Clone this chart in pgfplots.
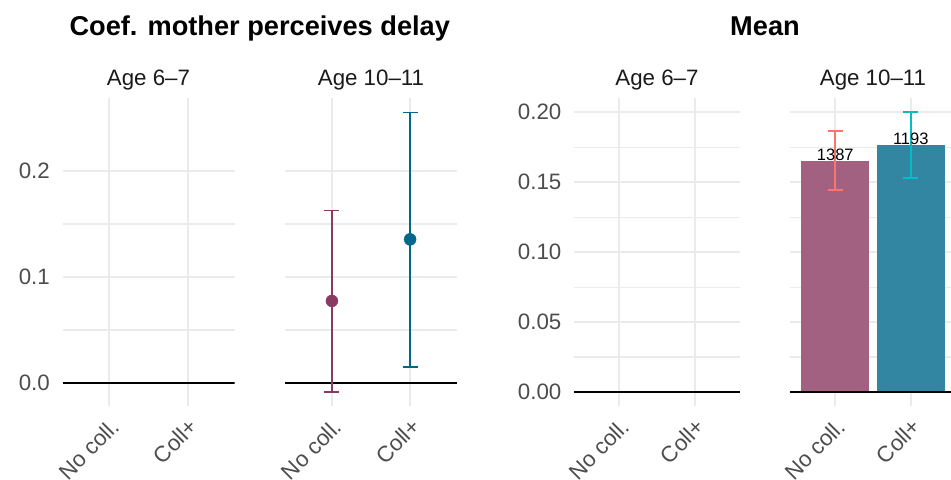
\documentclass[border=0pt]{standalone}
\usepackage{pgfplots}
\pgfplotsset{compat=1.18}
\usepackage{fontspec}
\setmainfont{Liberation Sans}
\definecolor{plum}{HTML}{8B3A62}
\definecolor{deepsky}{HTML}{00688B}
\definecolor{salmonR}{HTML}{F8766D}
\definecolor{cyanR}{HTML}{00BFC4}
\definecolor{gridc}{HTML}{EBEBEB}
\definecolor{tickc}{HTML}{4D4D4D}
\definecolor{stripc}{HTML}{1A1A1A}
\newcommand{\tickfont}{\fontsize{22.3bp}{26bp}\selectfont}
\newcommand{\titlefont}{\fontsize{27.2bp}{32bp}\selectfont\bfseries}
\newcommand{\numfont}{\fontsize{16.5bp}{20bp}\selectfont}

\pgfplotstableread{
x y ep em
1 0.0774 0.0856 0.0859
}\coefNo
\pgfplotstableread{
x y ep em
2 0.1355 0.1198 0.1204
}\coefColl
% confidence limits of the means (lower, upper)
\pgfplotstableread{
x y
1 0.1445
1 0.1864
}\meanNoCI
\pgfplotstableread{
x y
2 0.1533
2 0.2000
}\meanCollCI

\pgfplotsset{
  facet/.style={
    scale only axis,
    anchor=south west,
    height=308bp,
    xmin=0.4, xmax=2.6,
    xtick={1,2},
    xticklabels={No coll., Coll+},
    axis line style={draw=none},
    major tick length=0pt,
    minor tick length=0pt,
    xmajorgrids, ymajorgrids, yminorgrids,
    minor y tick num=1,
    major grid style={gridc, line width=2.1bp},
    minor grid style={gridc, line width=1.1bp},
    tick label style={font=\tickfont, text=tickc},
    /pgf/number format/assume math mode=true,
    xticklabel style={anchor=north east, inner sep=0pt, yshift=-11bp, rotate=45},
    yticklabel style={anchor=east, inner sep=0pt, xshift=-12.5bp},
  },
  coefax/.style={facet, ymin=-0.0217, ymax=0.2689, ytick={0,0.1,0.2}},
  meanax/.style={facet, ymin=-0.01, ymax=0.2102, ytick={0,0.05,0.1,0.15,0.2}},
  cibar/.style={draw=#1, line width=1.9bp, mark=-, mark size=7.75bp,
    mark options={solid, draw=#1, line width=1.9bp}},
}

\begin{document}
\begin{tikzpicture}[x=1bp,y=1bp]
\useasboundingbox (0,0) rectangle (951,480);

% Titles
\node[anchor=base, inner sep=0pt, font=\titlefont] at (259.75,444) {Coef. mother perceives delay};
\node[anchor=base, inner sep=0pt, font=\titlefont] at (765,444) {Mean};
% Strip labels
\node[anchor=base, inner sep=0pt, font=\tickfont, text=stripc] at (148.5,394) {Age 6–7};
\node[anchor=base, inner sep=0pt, font=\tickfont, text=stripc] at (371,394) {Age 10–11};
\node[anchor=base, inner sep=0pt, font=\tickfont, text=stripc] at (657,394) {Age 6–7};
\node[anchor=base, inner sep=0pt, font=\tickfont, text=stripc] at (873,394) {Age 10–11};

% Panel 1: coef, age 6-7
\begin{axis}[coefax, at={(62.5bp,74bp)}, width=172bp, yticklabels={0.0,0.1,0.2}]
\addplot[black, line width=1.6bp, forget plot] coordinates {(0.4,0) (2.6,0)};
\end{axis}

% Panel 2: coef, age 10-11
\begin{axis}[coefax, at={(285bp,74bp)}, width=172bp, yticklabels={}]
\addplot[black, line width=1.6bp, forget plot] coordinates {(0.4,0) (2.6,0)};
\addplot[only marks, mark=*, mark size=6bp, color=plum,
  error bars/.cd, y dir=both, y explicit,
  error bar style={line width=1.4bp, plum},
  error mark options={rotate=90, mark size=7.5bp, line width=1.4bp, plum}]
  table[x=x, y=y, y error plus=ep, y error minus=em] {\coefNo};
\addplot[only marks, mark=*, mark size=6bp, color=deepsky,
  error bars/.cd, y dir=both, y explicit,
  error bar style={line width=1.4bp, deepsky},
  error mark options={rotate=90, mark size=7.5bp, line width=1.4bp, deepsky}]
  table[x=x, y=y, y error plus=ep, y error minus=em] {\coefColl};
\end{axis}

% Panel 3: mean, age 6-7
\begin{axis}[meanax, at={(574bp,74bp)}, width=166bp, yticklabels={0.00,0.05,0.10,0.15,0.20}]
\addplot[black, line width=1.6bp, forget plot] coordinates {(0.4,0) (2.6,0)};
\end{axis}

% Panel 4: mean, age 10-11 (cut at the right edge)
\begin{axis}[meanax, at={(790bp,74bp)}, width=161bp, xmax=2.5338, yticklabels={}]
\addplot[ybar, bar width=68bp, bar shift=0pt, fill=plum!80, draw=none,
  nodes near coords, point meta=explicit symbolic,
  nodes near coords style={anchor=base, inner sep=0pt, font=\numfont, text=black}]
  coordinates {(1,0.1652) [1387]};
\addplot[ybar, bar width=68bp, bar shift=0pt, fill=deepsky!80, draw=none,
  nodes near coords, point meta=explicit symbolic,
  nodes near coords style={anchor=base, inner sep=0pt, font=\numfont, text=black}]
  coordinates {(2,0.1767) [1193]};
\addplot[black, line width=1.6bp, forget plot] coordinates {(0.4,0) (2.5338,0)};
\addplot[forget plot, cibar=salmonR] table[x=x, y=y] {\meanNoCI};
\addplot[forget plot, cibar=cyanR] table[x=x, y=y] {\meanCollCI};
\end{axis}
\end{tikzpicture}
\end{document}
